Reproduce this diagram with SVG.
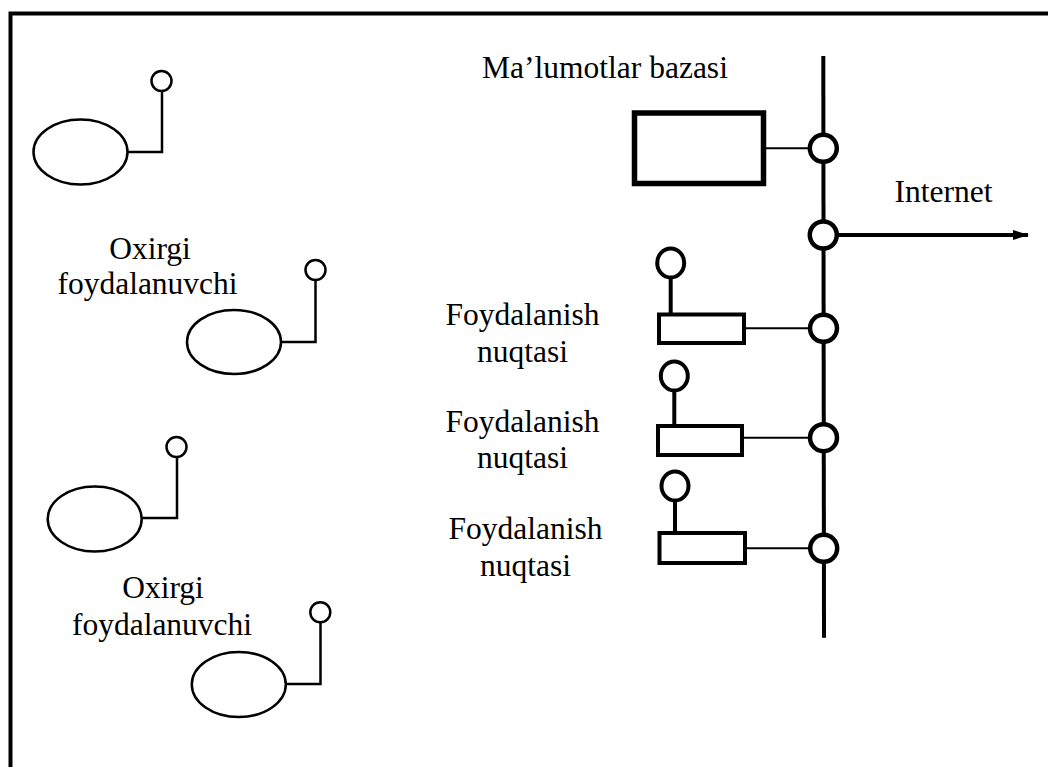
<svg xmlns="http://www.w3.org/2000/svg" width="1048" height="767" viewBox="0 0 1048 767">
<defs>
<style>
text{font-family:"Liberation Serif","Times New Roman",serif;font-size:31.5px;fill:#000}
.thin{stroke:#000;stroke-width:2.5;fill:none}
.bus{stroke:#000;stroke-width:4;fill:none}
.user{stroke:#000;stroke-width:2.5;fill:#fff}
.node{stroke:#000;stroke-width:4.5;fill:#fff}
.ap{stroke:#000;stroke-width:4;fill:#fff}
</style>
<marker id="arr" markerWidth="16" markerHeight="10" refX="15" refY="5" orient="auto" markerUnits="userSpaceOnUse">
<path d="M0,0 L16,5 L0,10 Z" fill="#000"/>
</marker>
</defs>
<rect x="0" y="0" width="1048" height="767" fill="#fff"/>
<g id="frame">
<path d="M10.5,767 V13.5 H1048" fill="none" stroke="#000" stroke-width="4"/>
</g>
<g id="connectors">
<path class="bus" d="M823.3,56 L824,637.7"/>
<path class="thin" d="M128,152 H162 V91"/>
<path class="thin" d="M281,342 H315.5 V281"/>
<path class="thin" d="M141.7,518 H177 V458"/>
<path class="thin" d="M286,684 H320.5 V623"/>
<path d="M763.5,148.3 H810" stroke="#000" stroke-width="2"/>
<path d="M837,235 H1028" stroke="#000" stroke-width="4" marker-end="url(#arr)"/>
<path d="M744,328.3 H810" stroke="#000" stroke-width="2"/>
<path d="M742,437.7 H810" stroke="#000" stroke-width="2"/>
<path d="M745,548.3 H810" stroke="#000" stroke-width="2"/>
<path class="bus" d="M670.7,277 V314.5"/>
<path class="bus" d="M674.3,390 V426"/>
<path class="bus" d="M675,500 V533"/>
</g>
<g id="user1">
<ellipse class="user" cx="80.5" cy="152" rx="47" ry="32.5"/>
<circle class="user" cx="161.5" cy="81" r="10"/>
</g>
<g id="user2">
<ellipse class="user" cx="234" cy="342" rx="47" ry="32"/>
<circle class="user" cx="315.5" cy="270" r="10"/>
</g>
<g id="user3">
<ellipse class="user" cx="94.7" cy="519" rx="47" ry="32.5"/>
<circle class="user" cx="176.5" cy="447" r="10"/>
</g>
<g id="user4">
<ellipse class="user" cx="238.8" cy="684.5" rx="47" ry="32.5"/>
<circle class="user" cx="320.3" cy="612.3" r="10"/>
</g>
<g id="label-users1">
<text x="150" y="259" text-anchor="middle">Oxirgi</text>
<text x="147.5" y="294" text-anchor="middle">foydalanuvchi</text>
</g>
<g id="label-users2">
<text x="163" y="598" text-anchor="middle">Oxirgi</text>
<text x="162" y="635" text-anchor="middle">foydalanuvchi</text>
</g>
<g id="database">
<rect x="634.5" y="113" width="129" height="70.5" fill="#fff" stroke="#000" stroke-width="5.5"/>
<text x="605" y="78" text-anchor="middle">Ma’lumotlar bazasi</text>
</g>
<g id="bus-nodes">
<circle class="node" cx="823.3" cy="148.3" r="13.5"/>
<circle class="node" cx="823.3" cy="235" r="13.5"/>
<circle class="node" cx="823.5" cy="328.3" r="13.5"/>
<circle class="node" cx="823.5" cy="437.7" r="13.5"/>
<circle class="node" cx="823.7" cy="548.3" r="13.5"/>
</g>
<g id="internet">
<text x="943.5" y="202" text-anchor="middle">Internet</text>
</g>
<g id="ap1">
<ellipse class="ap" cx="670.7" cy="263" rx="13.5" ry="14.5"/>
<rect class="ap" x="659" y="314.5" width="85" height="28.5"/>
<text x="522.5" y="325" text-anchor="middle">Foydalanish</text>
<text x="522.5" y="361.5" text-anchor="middle">nuqtasi</text>
</g>
<g id="ap2">
<ellipse class="ap" cx="674.3" cy="376" rx="13.5" ry="14.5"/>
<rect class="ap" x="658" y="426" width="84" height="29"/>
<text x="522.5" y="431.5" text-anchor="middle">Foydalanish</text>
<text x="522.5" y="468" text-anchor="middle">nuqtasi</text>
</g>
<g id="ap3">
<ellipse class="ap" cx="675" cy="486" rx="13.5" ry="14.5"/>
<rect class="ap" x="659.5" y="533" width="85.5" height="30"/>
<text x="525.5" y="539" text-anchor="middle">Foydalanish</text>
<text x="525.5" y="576" text-anchor="middle">nuqtasi</text>
</g>
</svg>
